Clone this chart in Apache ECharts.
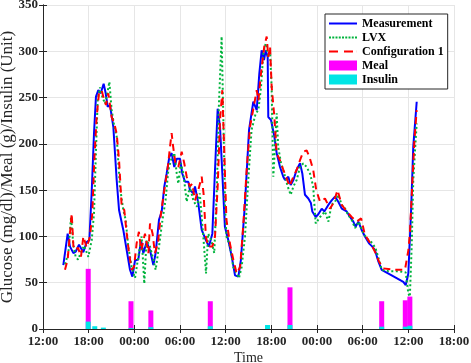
<!DOCTYPE html>
<html>
<head>
<meta charset="utf-8">
<script src="https://cdn.jsdelivr.net/npm/echarts@6/dist/echarts.min.js"></script>
<style>html,body{margin:0;padding:0;background:#fff}#c{width:471px;height:363px}</style>
</head>
<body>
<div id="c"></div>
<script>
// Time in hours after 12:00 of day 1; values in mg/dl, g, Unit
const xTicks = [0, 6, 12, 18, 24, 30, 36, 42, 48, 54];
const yTicks = [0, 50, 100, 150, 200, 250, 300, 350];

const measurement = [
[2.67,69],[3.24,103],[3.55,89],[3.99,82],[4.29,83.5],[4.73,91],[5.3,83],[5.74,94],[6.09,96],[6.39,146.6],
[6.7,211],[6.96,251],[7.27,258],[7.58,254.6],[7.97,265],[8.23,255],[8.5,240],[8.8,242],[9.24,218.5],[9.68,161],
[9.99,128.5],[10.55,107],[11,85],[11.43,64],[11.74,56.5],[12.09,74],[12.52,75],[12.88,96],[13.18,82],[13.62,94],
[14.06,85],[14.5,69],[14.8,82],[15.24,118],[15.6,127],[15.94,154],[16.25,168],[16.6,186],[16.9,190],[17.25,175],
[17.57,184],[18,184],[18.3,168],[18.66,159],[19.1,159],[19.3,150],[19.75,146.5],[19.97,154],[20.4,136],[20.85,107],
[21.4,96],[21.8,89],[22.25,103],[22.6,172],[22.95,238],[23.26,218],[23.56,168],[23.9,110.5],[24.35,96],[24.8,78],
[25.23,58],[25.67,56.5],[26,74.5],[26.54,136],[27.07,215],[27.63,245.5],[28.08,236.5],[28.42,276],[28.73,301],[29.04,290.5],
[29.26,301],[29.52,294],[29.6,229],[29.96,225.7],[30.4,207.7],[30.7,190],[31.14,175],[31.57,164.5],[31.8,161],[32.23,164.5],
[32.54,155.5],[32.9,161],[33.33,172],[33.77,179],[34.07,168],[34.42,145],[34.86,141],[35.2,136],[35.38,127],[35.83,121],
[36.17,124],[36.62,130],[36.96,127],[37.49,134],[37.93,139],[38.37,143],[38.8,137.5],[39.25,130],[39.9,127],[40.34,121],
[40.77,116],[41.08,110.5],[41.43,116],[41.87,107],[42.3,100],[42.83,92.5],[43.27,89],[43.62,85],[44.06,73],[44.5,64],
[45.81,58],[47.34,51],[47.66,47.5],[48,60],[48.35,125],[48.65,197],[49.1,245.5]
];

const lvx = [
[2.89,70],[3.33,82],[3.68,121],[3.99,90],[4.29,78],[4.6,75],[4.99,83],[5.4,90],[5.96,78],[6.4,96],
[6.7,125],[6.92,182.5],[7.18,247],[7.49,261],[7.8,250.5],[8.15,243.5],[8.45,254.6],[8.72,267],[9.02,236.5],[9.37,218.5],
[9.68,208],[10.1,154],[10.55,128.5],[10.86,118],[11.2,89],[11.65,67],[12.09,55],[12.52,78],[12.96,100],[13.31,49],
[13.6,96],[14.06,89],[14.5,75],[14.8,64],[15.24,89],[15.7,118],[16.1,139],[16.47,172],[16.82,182.5],[17.25,190],
[17.57,168],[17.78,157],[18.1,179],[18.44,168],[18.88,137.5],[19.3,154],[19.75,139],[20.2,132],[20.6,146.5],[21.1,96],
[21.42,60],[21.7,103],[22.1,96],[22.5,82],[22.85,154],[23.12,244],[23.47,316],[23.7,225.7],[23.9,136],[24.1,100],
[24.57,89],[25,67],[25.45,60],[25.75,55],[26.1,67],[26.54,100],[26.97,161],[27.4,215],[27.95,233],[28.3,236.5],
[28.64,261],[28.95,297.8],[29.26,308.5],[29.6,294],[29.83,301],[30.04,261],[30.26,164.5],[30.48,197],[30.7,233],[30.9,197],
[31.27,179],[31.7,168],[32.15,154],[32.54,145],[32.9,154],[33.33,161],[33.77,175],[34.2,179],[34.64,175],[35.08,168],
[35.5,154],[35.83,114],[36.4,121],[37.05,127],[37.5,116],[37.9,134],[38.37,137.5],[38.8,145],[39.25,134],[39.7,130],
[40.1,123],[40.55,118],[41,109],[41.5,116],[42.1,103],[42.75,96],[43.27,93],[43.7,87],[44.14,75],[44.5,64],
[45.4,62.5],[46.7,62.5],[47.66,61],[48,38.5],[48.2,35],[48.44,89],[48.65,161],[48.96,204],[49.1,222]
];

const configuration1 = [
[2.89,64],[3.24,75],[3.77,125],[3.99,90],[4.29,85],[4.6,88],[4.99,78],[5.3,100],[5.74,88],[5.96,94],
[6.17,100],[6.48,125],[6.74,182.5],[7.05,229],[7.35,254.6],[7.7,258],[8.06,247],[8.27,242],[8.58,254.6],[9.02,229],
[9.37,222],[9.68,211],[9.99,182.5],[10.34,132],[10.68,128.5],[11,103],[11.3,82],[11.65,64],[11.96,67],[12.3,92.5],
[12.6,105],[12.9,85],[13.4,103],[13.85,82],[14.06,114],[14.4,103],[14.7,82],[15.1,92.5],[15.5,125],[15.94,150],
[16.4,175],[16.69,197],[16.9,211.5],[17.1,197],[17.4,179],[17.78,175],[18.22,191.5],[18.56,179],[18.88,164.5],[19.3,154],
[19.6,157],[19.97,139],[20.4,150],[20.85,164.5],[21.1,146],[21.4,100],[21.7,89],[22.25,89],[22.6,100],[22.95,154],
[23.26,225.7],[23.56,258],[23.82,190],[24.1,118],[24.57,92],[25,75],[25.45,60],[25.9,67],[26.3,110.5],[26.76,172],
[27.2,218.5],[27.77,243.8],[28.08,258],[28.3,247],[28.64,276],[29.07,305],[29.39,316],[29.6,294],[29.83,305],[30.04,262],
[30.4,229],[30.7,190],[31.14,182],[31.57,172],[32,163],[32.4,154],[32.9,164.5],[33.33,172],[33.77,182.5],[34.2,191.5],
[34.64,193],[35,186],[35.5,172],[35.9,150],[36.4,137.5],[37.05,141],[37.7,130],[38.15,136],[38.7,150],[39.25,134],
[39.9,127],[40.55,121],[41.2,116],[41.8,119.5],[42.3,101.5],[42.75,96],[43.27,89],[43.7,82],[44.14,73],[44.7,65.5],
[46.25,64],[47.56,64],[48,85],[48.2,103],[48.44,143],[48.8,204],[49.1,236.5]
];

const meal = [[5.94,65],[11.56,30],[14.17,20],[21.98,30],[32.45,45],[44.5,30],[47.6,31],[48.2,35]];
const insulin = [[5.94,8],[6.8,3],[7.93,1.5],[11.56,1],[14.17,2],[21.98,3],[29.5,4.3],[32.45,4.3],[44.5,2.5],[47.6,2.5],[48.2,3.5]];

const FONT = "'Liberation Serif','Times New Roman',serif";
const INK = '#262626';
const GREEN = '#00b33c';

function fmt(v) {
  const h = Math.round((12 + v) % 24);
  return (h < 10 ? '0' : '') + h + ':00';
}

// legend line icons (solid, dotted, dashed) as filled paths
function segPath(segs) {
  return 'path://' + segs.map(s => 'M' + s[0] + ',0H' + s[1] + 'V2H' + s[0] + 'Z').join('');
}
const iconSolid = segPath([[0, 28]]);
const dots = []; for (let i = 0; i < 9; i++) dots.push([i * 3.25, i * 3.25 + 2]);
const iconDotted = segPath(dots);
const iconDashed = segPath([[0, 9], [15, 24], [27.9, 28]]);

const chart = echarts.init(document.getElementById('c'), null, {renderer: 'canvas'});
chart.setOption({
  animation: false,
  backgroundColor: '#fff',
  grid: {left: 43, right: 17, top: 5, bottom: 34, containLabel: false, outerBoundsMode: 'none'},
  legend: {
    orient: 'vertical', left: 325, top: 14,
    data: [
      {name: 'Measurement', icon: iconSolid}, {name: 'LVX', icon: iconDotted},
      {name: 'Configuration 1', icon: iconDashed},
      {name: 'Meal', icon: 'rect'}, {name: 'Insulin', icon: 'rect'}
    ],
    itemWidth: 28, itemHeight: 10, itemGap: 2,
    padding: [3.5, 4, 3.5, 4],
    borderColor: INK, borderWidth: 1, backgroundColor: '#fff',
    textStyle: {fontFamily: FONT, fontWeight: 'bold', fontSize: 12, color: '#000', lineHeight: 12},
    selectedMode: false
  },
  xAxis: [{
    type: 'value', min: 0, max: 54, interval: 6,
    name: 'Time', nameLocation: 'middle', nameGap: 22, nameMoveOverlap: false,
    nameTextStyle: {fontFamily: FONT, fontSize: 14, color: INK},
    axisLine: {show: true, lineStyle: {color: INK, width: 1}},
    axisTick: {show: true, inside: true, length: 4, lineStyle: {color: INK}},
    axisLabel: {formatter: fmt, fontFamily: FONT, fontWeight: 'bold', fontSize: 13, color: INK, margin: 6},
    splitLine: {show: true, lineStyle: {color: '#e6e6e6', width: 1}}
  }, {
    type: 'value', min: 0, max: 54, interval: 6, position: 'top',
    axisLine: {show: true, lineStyle: {color: INK, width: 1}},
    axisTick: {show: true, inside: true, length: 4, lineStyle: {color: INK}},
    axisLabel: {show: false}, splitLine: {show: false}
  }],
  yAxis: [{
    type: 'value', min: 0, max: 350, interval: 50,
    name: 'Glucose (mg/dl)/Meal (g)/Insulin (Unit)', nameLocation: 'middle', nameGap: 27, nameMoveOverlap: false,
    nameTextStyle: {fontFamily: FONT, fontSize: 17, color: INK},
    axisLine: {show: true, lineStyle: {color: INK, width: 1}},
    axisTick: {show: true, inside: true, length: 4, lineStyle: {color: INK}},
    axisLabel: {fontFamily: FONT, fontWeight: 'bold', fontSize: 13, color: INK, margin: 5},
    splitLine: {show: true, lineStyle: {color: '#e6e6e6', width: 1}}
  }, {
    type: 'value', min: 0, max: 350, interval: 50, position: 'right',
    axisLine: {show: true, lineStyle: {color: INK, width: 1}},
    axisTick: {show: true, inside: true, length: 4, lineStyle: {color: INK}},
    axisLabel: {show: false}, splitLine: {show: false}
  }],
  series: [
    {name: 'Measurement', type: 'line', data: measurement, symbol: 'none', color: '#0000ff',
     lineStyle: {color: '#0000ff', width: 2}, z: 3},
    {name: 'LVX', type: 'line', data: lvx, symbol: 'none', color: GREEN,
     lineStyle: {color: GREEN, width: 2, type: [2, 2.5]}, z: 3},
    {name: 'Configuration 1', type: 'line', data: configuration1, symbol: 'none', color: '#ff0000',
     lineStyle: {color: '#ff0000', width: 2, type: [7, 5]}, z: 3},
    {name: 'Meal', type: 'bar', data: meal, barWidth: 5, barGap: '-100%', color: '#ff00ff',
     itemStyle: {color: '#ff00ff'}, z: 2},
    {name: 'Insulin', type: 'bar', data: insulin, barWidth: 5, barGap: '-100%', color: '#00e5e5',
     itemStyle: {color: '#00e5e5'}, z: 2}
  ]
});
</script>
</body>
</html>
